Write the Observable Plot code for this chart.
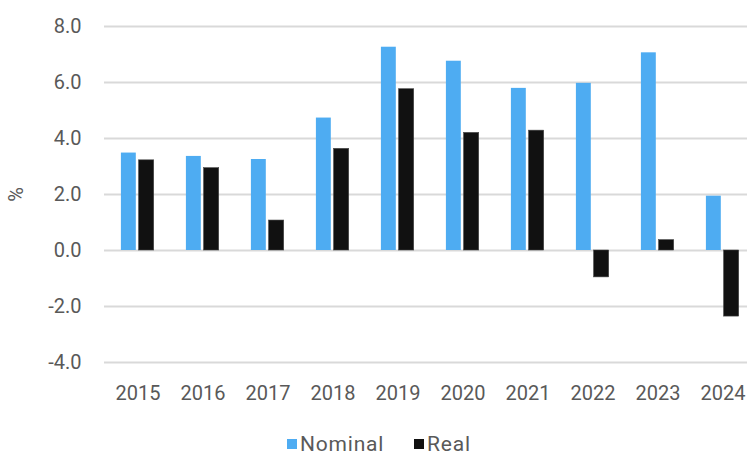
<!DOCTYPE html>
<html>
<head>
<meta charset="utf-8">
<script src="https://cdn.jsdelivr.net/npm/d3@7"></script>
<script src="https://cdn.jsdelivr.net/npm/@observablehq/plot@0.6"></script>
<style>
  html, body { margin: 0; padding: 0; background: #fff; }
  #chart { width: 747px; }
  .legend { position: relative; height: 30px; font-family: Roboto, "Liberation Sans", sans-serif; font-size: 21px; letter-spacing: 0.8px; color: #595959; }
  .legend .item { position: absolute; top: 7px; display: flex; align-items: center; line-height: 24px; }
  .legend .sw { width: 10px; height: 10px; margin-right: 3px; }
</style>
</head>
<body>
<div id="chart"></div>
<script>
const years = ["2015","2016","2017","2018","2019","2020","2021","2022","2023","2024"];
const nominal = [3.48, 3.36, 3.25, 4.73, 7.26, 6.76, 5.79, 5.97, 7.06, 1.94];
const real = [3.22, 2.94, 1.07, 3.63, 5.76, 4.20, 4.28, -0.96, 0.37, -2.36];
const yTicks = [-4, -2, 0, 2, 4, 6, 8];
const seriesNames = ["Nominal", "Real"];
const seriesColors = ["#4eacf2", "#111111"];

const table = years.map((y, i) => ({year: y, nominal: nominal[i], real: real[i]}));

const font = "Roboto, 'Liberation Sans', sans-serif";

const plot = Plot.plot({
  width: 747,
  height: 425,
  marginTop: 26,
  marginBottom: 63,
  marginLeft: 104,
  marginRight: 0,
  style: {fontFamily: font, fontSize: "20px", color: "#595959", background: "#fff"},
  x: {domain: years, range: [104, 755], padding: 0},
  y: {domain: [-4, 8], range: [362, 26]},
  marks: [
    Plot.gridY(yTicks, {stroke: "#d9d9d9", strokeOpacity: 1, strokeWidth: 2}),
    Plot.barY(table, {x: "year", y: "nominal", fill: seriesColors[0], insetLeft: 15.9, insetRight: 34.2}),
    Plot.barY(table, {x: "year", y: "real", fill: seriesColors[1], stroke: "#444", strokeWidth: 0.6, insetLeft: 33.6, insetRight: 16.3}),
    Plot.axisX({tickSize: 0, tickPadding: 23, fontSize: 20, fill: "#595959", label: null}),
    Plot.axisY(yTicks, {tickSize: 0, tickPadding: 23, fontSize: 20, fill: "#595959",
      tickFormat: d => d.toFixed(1), label: "%", labelAnchor: "center", labelArrow: "none", labelOffset: 96})
  ]
});
document.getElementById("chart").appendChild(plot);

const legend = document.createElement("div");
legend.className = "legend";
const lefts = [287, 414];
seriesNames.forEach((name, i) => {
  const item = document.createElement("div");
  item.className = "item";
  item.style.left = lefts[i] + "px";
  const sw = document.createElement("span");
  sw.className = "sw";
  sw.style.background = seriesColors[i];
  item.appendChild(sw);
  const t = document.createElement("span");
  t.textContent = name;
  item.appendChild(t);
  legend.appendChild(item);
});
document.getElementById("chart").appendChild(legend);
</script>
</body>
</html>
